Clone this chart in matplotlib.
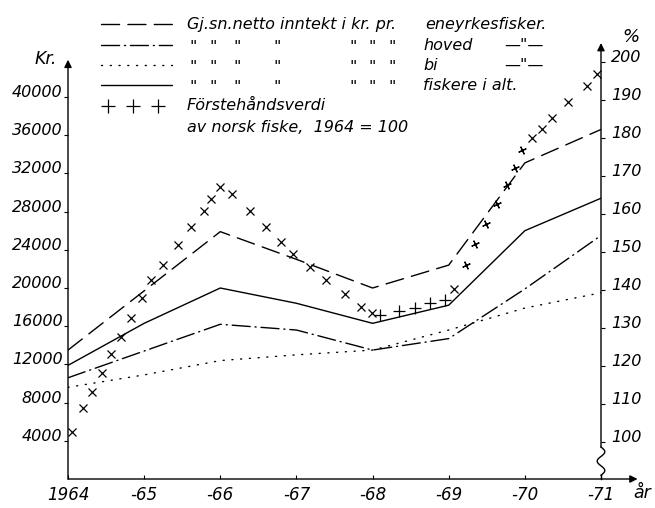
import matplotlib.pyplot as plt
from matplotlib.lines import Line2D
import numpy as np

# --- data ---
years = [1964, 1965, 1966, 1967, 1968, 1969, 1970, 1971]
year_labels = ["1964", "-65", "-66", "-67", "-68", "-69", "-70", "-71"]

# Kr. per fisker
eneyrke = [13500, 19700, 25900, 23000, 20000, 22400, 33100, 36600]
hoved = [10600, 13400, 16200, 15600, 13500, 14700, 19900, 25500]
bi = [9600, 10900, 12400, 13000, 13500, 15600, 17900, 19500]
alle = [11900, 16300, 20000, 18400, 16300, 18200, 26000, 29400]

# Förstehåndsverdi, 1964 = 100 (right axis, %)
verdi_t = [1964.05, 1964.20, 1964.32, 1964.44, 1964.57, 1964.69, 1964.83, 1964.97,
           1965.09, 1965.25, 1965.44, 1965.62, 1965.78, 1965.88, 1966.00, 1966.16,
           1966.39, 1966.60, 1966.80, 1966.96, 1967.18, 1967.39, 1967.64, 1967.85,
           1967.99, 1968.10, 1968.35, 1968.56, 1968.76, 1968.95, 1969.07, 1969.23,
           1969.35, 1969.49, 1969.63, 1969.76, 1969.87, 1969.96, 1970.10, 1970.22,
           1970.36, 1970.57, 1970.81, 1970.95]
verdi = [102.7, 108.9, 113.2, 118.1, 123.1, 127.6, 132.6, 137.8,
         142.6, 146.6, 151.8, 156.7, 160.9, 163.9, 167.2, 165.3,
         160.9, 156.7, 152.7, 149.5, 146.1, 142.6, 138.9, 135.6,
         133.9, 133.4, 134.6, 135.4, 136.5, 137.4, 140.4, 146.6,
         152.1, 157.4, 162.6, 167.6, 172.0, 176.8, 179.9, 182.4,
         185.2, 189.6, 193.7, 196.8]

kr_ticks = [4000, 8000, 12000, 16000, 20000, 24000, 28000, 32000, 36000, 40000]
pct_ticks = [100, 110, 120, 130, 140, 150, 160, 170, 180, 190, 200]

plt.rcParams['font.family'] = ['DejaVu Sans']
plt.rcParams['font.style'] = 'italic'

W, H = 655, 508
fig = plt.figure(figsize=(W / 100, H / 100), dpi=100)

def fx(x):
    return x / W

def fy(y):
    return 1 - y / H

ax = fig.add_axes([fx(68), fy(479), (601 - 68) / W, (479 - 39.7) / H])
ax2 = ax.twinx()
ax.set_xlim(1964, 1971)
ax.set_ylim(0, 46000)
ax2.set_ylim(90.3, 90.3 + 46000 / 398)
for a in (ax, ax2):
    for s in a.spines.values():
        s.set_visible(False)
    a.patch.set_visible(False)

k = dict(color='black', lw=1.0, solid_capstyle='round', dash_capstyle='round')
ax.plot(years, eneyrke, dashes=(13, 6), **k)
ax.plot(years, hoved, dashes=(13, 3.5, 0.8, 3.5), **k)
ax.plot(years, bi, dashes=(0.8, 5.5), **k)
ax.plot(years, alle, **k)

# crosses
m = dict(color='black', ls='none', ms=6, mew=0.9)
ax2.plot(verdi_t[:25], verdi[:25], marker='x', **m)
ax2.plot(verdi_t[25:30], verdi[25:30], marker='+', ms=8, mew=0.9, color='black', ls='none')
ax2.plot(verdi_t[30:31], verdi[30:31], marker='x', **m)
ax2.plot(verdi_t[31:38], verdi[31:38], marker=(4, 2, 25), **m)
ax2.plot(verdi_t[38:], verdi[38:], marker='x', **m)

# axes lines with arrows
arr = dict(arrowstyle='-|>', lw=1.0, color='black', shrinkA=0, shrinkB=0,
           mutation_scale=11)
ax.annotate('', xy=(1964, 43900), xytext=(1964, 0), arrowprops=arr,
            annotation_clip=False)
ax.annotate('', xy=(1971.48, 0), xytext=(1964, 0), arrowprops=arr,
            annotation_clip=False)
ax2.annotate('', xy=(1971, 205), xytext=(1971, 98.7), arrowprops=arr,
             annotation_clip=False)
# broken right axis (wavy)
wy = np.linspace(91.3, 98.7, 60)
wx = 1971 + 0.05 * np.sin((wy - 91.3) / 7.4 * 3 * np.pi)
ax2.plot(wx, wy, color='black', lw=1.0, clip_on=False)
ax2.plot([1971, 1971], [90.3, 91.3], color='black', lw=1.0, clip_on=False)

# ticks
ax.set_xticks(years)
ax.set_xticklabels(year_labels)
ax.tick_params(axis='x', direction='in', length=3, width=0.8, pad=5, labelsize=12)
ax.set_yticks(kr_ticks)
ax.set_yticklabels([str(v) for v in kr_ticks])
ax.tick_params(axis='y', direction='out', length=3, width=0.8, pad=1, labelsize=11.5)
ax2.set_yticks(pct_ticks)
ax2.set_yticklabels([str(v) for v in pct_ticks])
ax2.tick_params(axis='y', direction='out', length=3, width=0.8, pad=4, labelsize=11.5)
for lab in ax.get_yticklabels() + ax2.get_yticklabels():
    lab.set_va('baseline')

fig.text(fx(46), fy(59), "Kr.", fontsize=12.5, ha='center', va='center')
fig.text(fx(631), fy(37), "%", fontsize=13, ha='center', va='center')
fig.text(fx(642), fy(493), "år", fontsize=12.5, ha='center', va='center')

# legend block
rows = [24, 45, 65, 85, 106, 127]
samples = [dict(dashes=(13, 6)), dict(dashes=(13, 3.5, 0.8, 3.5)),
           dict(dashes=(0.8, 5.5)), dict()]
for r, st in zip(rows[:4], samples):
    fig.add_artist(Line2D([fx(101), fx(172)], [fy(r), fy(r)], **k, **st))
fig.add_artist(Line2D([fx(108), fx(133), fx(158)], [fy(rows[4])] * 3,
                      marker='+', ms=10, mew=0.9, ls='none', color='black'))

fs = 11.5
fig.text(fx(187), fy(rows[0]), "Gj.sn.netto inntekt i kr. pr.", fontsize=fs, va='center')
fig.text(fx(425), fy(rows[0]), "eneyrkesfisker.", fontsize=fs, va='center')
ditto_x = [193, 213, 237, 277, 353, 372, 392]
for r in rows[1:4]:
    for dx in ditto_x:
        fig.text(fx(dx), fy(r + 2), '"', fontsize=fs, va='center', ha='center')
fig.text(fx(423), fy(rows[1]), "hoved", fontsize=fs, va='center')
fig.text(fx(524), fy(rows[1]), '—"—', fontsize=fs, va='center', ha='center')
fig.text(fx(423), fy(rows[2]), "bi", fontsize=fs, va='center')
fig.text(fx(524), fy(rows[2]), '—"—', fontsize=fs, va='center', ha='center')
fig.text(fx(423), fy(rows[3]), "fiskere i alt.", fontsize=fs, va='center')
fig.text(fx(187), fy(rows[4]), "Förstehåndsverdi", fontsize=fs, va='center')
fig.text(fx(187), fy(rows[5]), "av norsk fiske,  1964 = 100", fontsize=fs, va='center')

fig.savefig("out.png", dpi=100)
